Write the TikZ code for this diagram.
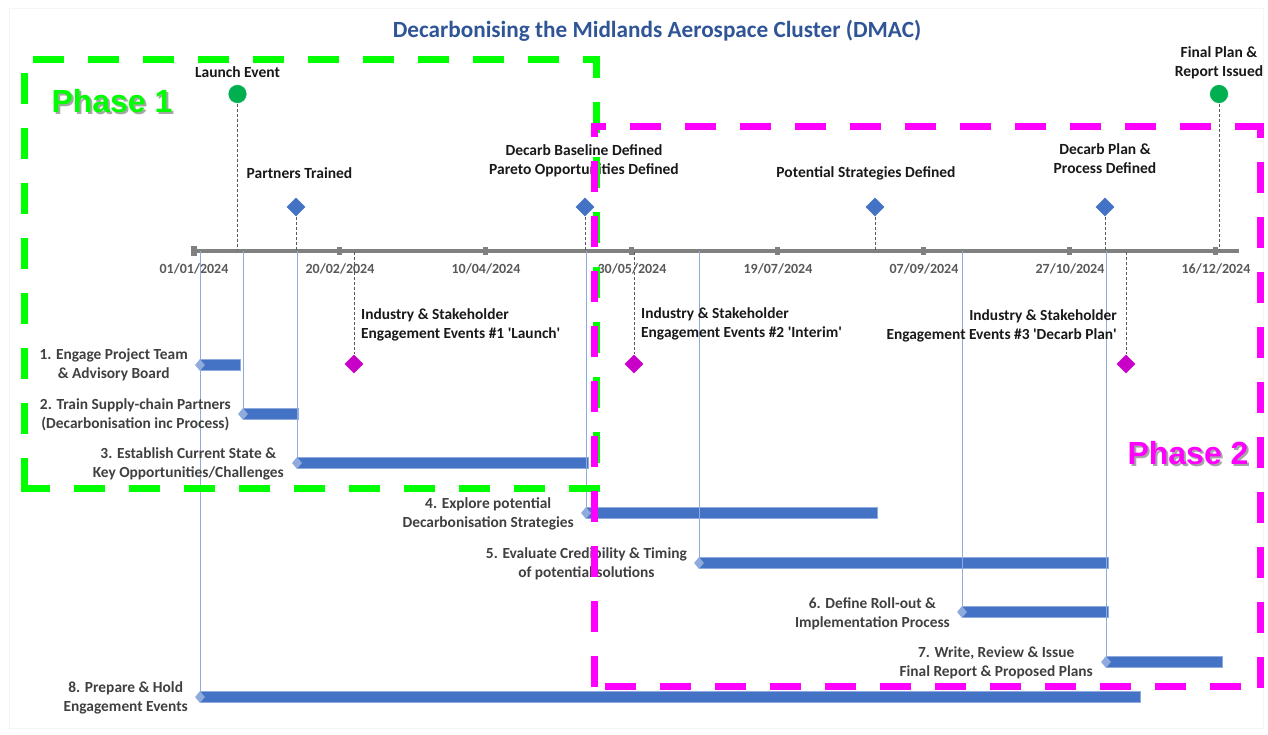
\documentclass[tikz,border=0pt]{standalone}
\usepackage{fontspec}
\setmainfont{Carlito}
\newfontfamily\arialf{Liberation Sans}
\usetikzlibrary{shapes.geometric}
\definecolor{barblue}{HTML}{4472C4}
\definecolor{lightblue}{HTML}{8FAADC}
\definecolor{msgreen}{HTML}{00B050}
\definecolor{evmag}{HTML}{C800C8}
\definecolor{axisgray}{HTML}{808080}
\definecolor{dategray}{HTML}{595959}
\definecolor{taskgray}{HTML}{404040}
\definecolor{titleblue}{HTML}{2F5597}
\definecolor{ph1}{HTML}{00FF00}
\definecolor{ph2}{HTML}{FF00FF}
\begin{document}
\begin{tikzpicture}[x=1pt,y=-1pt,
  taskbar/.style={fill=barblue, draw=lightblue, line width=0.6pt, minimum height=11pt, inner sep=0pt, anchor=west},
  startmark/.style={diamond, fill=lightblue, minimum width=10pt, minimum height=12pt, inner sep=0pt},
  conn/.style={draw=lightblue, line width=0.9pt},
  msdiamond/.style={diamond, fill=barblue, minimum width=19pt, minimum height=19pt, inner sep=0pt},
  evdiamond/.style={diamond, fill=evmag, minimum width=19pt, minimum height=19pt, inner sep=0pt},
  mscircle/.style={circle, fill=msgreen, draw=white, line width=0.6pt, minimum size=19pt, inner sep=0pt},
  dashconn/.style={draw=black!65, line width=0.9pt, dash pattern=on 3pt off 2pt},
  mslabel/.style={font=\fontsize{15.5}{19}\selectfont\bfseries, text=black!90, align=center, inner sep=0pt},
  tasklabel/.style={font=\fontsize{15.4}{18.5}\selectfont\bfseries, text=taskgray, align=center, inner sep=0pt, anchor=east},
  evlabel/.style={font=\fontsize{15.4}{18.5}\selectfont\bfseries, text=black!90, inner sep=0pt},
  datelabel/.style={font=\fontsize{14}{16}\selectfont\bfseries, text=dategray, inner sep=0pt},
  tickmark/.style={fill=axisgray, minimum width=5pt, minimum height=8pt, inner sep=0pt},
  phasebox/.style={line width=7pt, dash pattern=on 31pt off 24pt},
  phasetext/.style={font=\arialf\bfseries\fontsize{32}{36}\selectfont, inner sep=0pt}
]
\useasboundingbox[fill=white] (0,0) rectangle (1268,734);
\draw[black!4, line width=1pt] (9,8) rectangle (1263,728);

% title
\node[font=\fontsize{23.2}{27}\selectfont\bfseries, text=titleblue] (title) at (657,31) {Decarbonising the Midlands Aerospace Cluster (DMAC)};

% axis
\coordinate (ax0) at (193,251);
\coordinate (ax1) at (1239,251);
\draw[axisgray, line width=4pt] (ax0) -- (ax1);
\node[fill=axisgray, minimum width=6pt, minimum height=10pt, inner sep=0pt] (axstart) at (194,251) {};
\foreach \i in {1,...,7}{
  \node[tickmark] (tick\i) at ({193.5+146*\i},251) {};
}
\foreach \i/\d in {0/{01/01/2024}, 1/{20/02/2024}, 2/{10/04/2024}, 3/{30/05/2024}, 4/{19/07/2024}, 5/{07/09/2024}, 6/{27/10/2024}, 7/{16/12/2024}}{
  \node[datelabel] (date\i) at ({194+146*\i},269) {\d};
}

% task connectors, bars and labels
\foreach \n/\s/\e/\y in {1/200/240/365, 2/243/298/414, 3/297/588/463, 4/586/877/513, 5/699/1108/563, 6/962/1108/612, 7/1106/1222/662, 8/200/1140/697}{
  \coordinate (ta\n) at (\s,251);
  \node[taskbar, minimum width={(\e-\s)*1pt}] (bar\n) at (\s,\y) {};
  \node[startmark] (st\n) at (\s,\y) {};
}
\draw[conn] (ta8) -- (st8.north);
\draw[conn] (ta1) -- (st1.north);
\foreach \n in {2,3,4,5,6,7}{ \draw[conn] (ta\n) -- (st\n.north); }

\node[tasklabel] (l1) at (188,365) {1. Engage Project Team\\\& Advisory Board};
\node[tasklabel] (l2) at (231,415) {2. Train Supply-chain Partners\\(Decarbonisation inc Process)};
\node[tasklabel] (l3) at (284,464) {3. Establish Current State \&\\Key Opportunities/Challenges};
\node[tasklabel] (l4) at (574,514) {4. Explore potential\\Decarbonisation Strategies};
\node[tasklabel] (l5) at (687,564) {5. Evaluate Credibility \& Timing\\of potential solutions};
\node[tasklabel] (l6) at (950,614) {6. Define Roll-out \&\\Implementation Process};
\node[tasklabel] (l7) at (1093,663) {7. Write, Review \& Issue\\Final Report \& Proposed Plans};
\node[tasklabel] (l8) at (188,698) {8. Prepare \& Hold\\Engagement Events};

% milestones above axis
\node[mscircle] (launch) at (237.5,94) {};
\node[msdiamond] (partners) at (296,207) {};
\node[msdiamond] (baseline) at (585,207) {};
\node[msdiamond] (strategies) at (875,207) {};
\node[msdiamond] (plan) at (1105,207) {};
\node[mscircle] (final) at (1219,94) {};
\foreach \m/\x in {launch/237.5, partners/296, baseline/585, strategies/875, plan/1105, final/1219}{
  \coordinate (\m a) at (\x,250);
  \draw[dashconn] (\m.south) -- (\m a);
}
\node[mslabel] (launchl) at (237.5,72) {Launch Event};
\node[mslabel] (partnersl) at (299.5,173) {Partners Trained};
\node[mslabel] (baselinel) at (584,161) {Decarb Baseline Defined\\Pareto Opportunities Defined};
\node[mslabel] (strategiesl) at (866,173) {Potential Strategies Defined};
\node[mslabel] (planl) at (1105,159) {Decarb Plan \&\\Process Defined};
\node[mslabel] (finall) at (1219,63) {Final Plan \&\\Report Issued};

% engagement events below axis
\node[evdiamond] (ev1) at (354,364) {};
\node[evdiamond] (ev2) at (634,364) {};
\node[evdiamond] (ev3) at (1126,364) {};
\foreach \m/\x in {ev1/354, ev2/634, ev3/1126}{
  \coordinate (\m a) at (\x,252);
  \draw[dashconn] (\m a) -- (\m.north);
}
\node[evlabel, anchor=west, align=left] (ev1l) at (361,325) {Industry \& Stakeholder\\Engagement Events \#1 \textquotesingle Launch\textquotesingle};
\node[evlabel, anchor=west, align=left] (ev2l) at (641,324) {Industry \& Stakeholder\\Engagement Events \#2 \textquotesingle Interim\textquotesingle};
\node[evlabel, anchor=east, align=right] (ev3l) at (1117,326) {Industry \& Stakeholder\\Engagement Events \#3 \textquotesingle Decarb Plan\textquotesingle};

% phase 1 box (each side dashed on its own)
\draw[phasebox, ph1, dash phase=42.5pt] (20.5,59) -- (599.5,59);
\draw[phasebox, ph1, dash phase=8.5pt] (596,55.5) -- (596,492);
\draw[phasebox, ph1, dash phase=0pt] (599.5,488.5) -- (20.5,488.5);
\draw[phasebox, ph1, dash phase=52pt] (24,492) -- (24,55.5);
% phase 2 box
\draw[phasebox, ph2, dash phase=16pt] (591,126.5) -- (1263.5,126.5);
\draw[phasebox, ph2, dash phase=16pt] (1260,123) -- (1260,690);
\draw[phasebox, ph2, dash phase=41pt] (591,686.5) -- (1263.5,686.5);
\draw[phasebox, ph2, dash phase=17pt] (594.5,123) -- (594.5,690);

\node[phasetext, text=black!35] (p1s) at (114,103) {Phase 1};
\node[phasetext, text=ph1] (p1) at (112,101) {Phase 1};
\node[phasetext, text=black!35] (p2s) at (1190,455) {Phase 2};
\node[phasetext, text=ph2] (p2) at (1188,453) {Phase 2};
\end{tikzpicture}
\end{document}
